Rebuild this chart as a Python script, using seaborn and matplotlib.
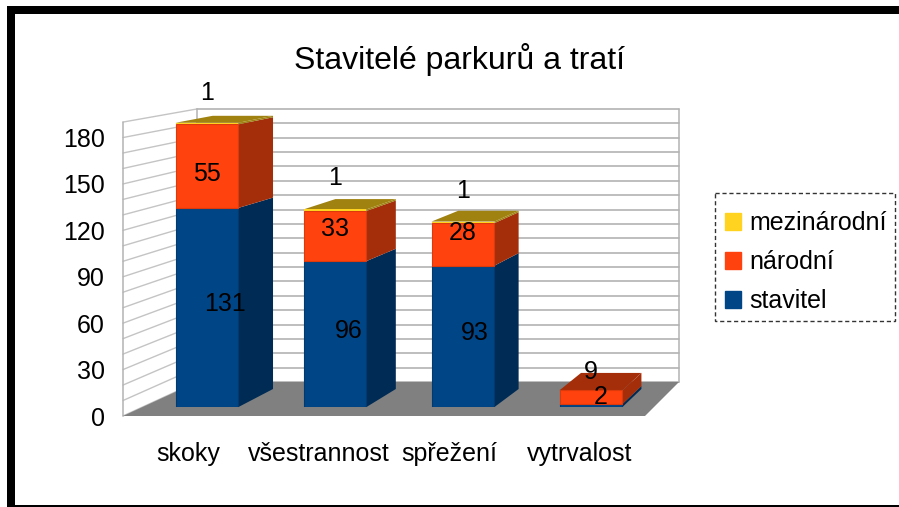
"""Stavitele parkuru a trati - fake 3D stacked bars."""
import pandas as pd
import matplotlib
matplotlib.use("Agg")
import matplotlib.pyplot as plt
from matplotlib.patches import Patch, Polygon, Rectangle
import seaborn as sns

W, H = 899, 507

categories = ["skoky", "všestrannost", "spřežení", "vytrvalost"]
stavitel = [131, 96, 93, 2]
narodni = [55, 33, 28, 9]
mezinarodni = [1, 1, 1, 0]
y_ticks = [0, 30, 60, 90, 120, 150, 180]
grid_values = list(range(0, 200, 10))

BLUE, BLUE_D = "#004586", "#002b55"
ORANGE, ORANGE_D = "#ff420e", "#a32e09"
YELLOW, YELLOW_D = "#ffd320", "#a08210"
GRID = "#b3b3b3"

# label offsets from the segment centre, in pixels
off_stavitel = [(18, 3), (14, 3), (12, 3), (10, 8)]
off_narodni = [(0, -8), (0, 7), (0, 11), (0, 25)]
off_mezi = [(0, 30), (0, 31), (0, 31), None]

sns.set_style("white")
plt.rcParams["font.family"] = ["Liberation Sans", "DejaVu Sans"]
plt.rcParams["font.size"] = 18
plt.rcParams["text.color"] = "black"
plt.rcParams["xtick.color"] = "black"
plt.rcParams["ytick.color"] = "black"


def add_axes(fig, left, top, right, bottom, **kw):
    return fig.add_axes([left / W, 1 - bottom / H, (right - left) / W, (bottom - top) / H], **kw)


def depth_x(x):
    return (74 - 40 * (x - 123) / 522) * 0.53


def back_y(y):
    return y - 18 + 11 * (407 - y) / 283


df = pd.DataFrame({"cat": categories, "stavitel": stavitel, "narodni": narodni, "mezi": mezinarodni})
df["b1"] = df["stavitel"]
df["b2"] = df["stavitel"] + df["narodni"]

fig = plt.figure(figsize=(W / 100, H / 100), dpi=100)
fig.patch.set_facecolor("white")

# scene in pixel coordinates: frame, walls, floor
bg = add_axes(fig, 0, 0, W, H, zorder=0)
bg.set_xlim(0, W); bg.set_ylim(H, 0); bg.axis("off")
for rect in [(7, 6, 8, 501), (7, 6, W, 8), (7, 505, W, 2)]:
    bg.add_patch(Rectangle(rect[:2], rect[2], rect[3], color="black", lw=0))
for v in grid_values:
    fy = 416 - v * 1.547
    by = 382 - v * 1.437
    bg.plot([123, 197], [fy, by], color="#c4c4c4", lw=1, zorder=1)
    bg.plot([197, 679], [by, by], color=GRID, lw=1.2, zorder=1)
bg.plot([123, 123], [416, 122], color=GRID, lw=1.1, zorder=1)
bg.plot([197, 197], [382, 109], color=GRID, lw=1.1, zorder=1)
bg.plot([679, 679], [382, 109], color=GRID, lw=1.1, zorder=1)
bg.add_patch(Polygon([(123, 416), (645, 416), (679, 382), (197, 382)], color="#808080", lw=0, zorder=2))
bg.add_patch(Rectangle((715, 193), 180, 128, fill=False, ec="#333333", lw=1, ls=(0, (3, 2)), zorder=2))

# axis labels sit on the front edge of the floor
wall = add_axes(fig, 123, 122, 645, 416, zorder=1)
wall.patch.set_alpha(0)
wall.set_xlim(-0.5, 3.5); wall.set_ylim(0, 190)
wall.set_xticks(range(len(categories)), categories)
wall.set_yticks(y_ticks, [str(t) for t in y_ticks])
wall.tick_params(axis="x", length=0, pad=19, labelsize=18)
wall.tick_params(axis="y", length=0, pad=13, labelsize=18)
sns.despine(ax=wall, left=True, bottom=True)

ax = add_axes(fig, 143, 407 - 190 * 1.52, 655, 407, zorder=2)
ax.patch.set_alpha(0)
sns.barplot(data=df, x="cat", y="stavitel", color=BLUE, saturation=1, width=0.492, ax=ax,
            edgecolor="#003a70", linewidth=0.8)
n1 = len(ax.patches)
sns.barplot(data=df, x="cat", y="narodni", bottom=df["b1"], color=ORANGE, saturation=1, width=0.492, ax=ax,
            edgecolor="#dc3a0d", linewidth=0.8)
n2 = len(ax.patches)
sns.barplot(data=df, x="cat", y="mezi", bottom=df["b2"], color=YELLOW, saturation=1, width=0.492, ax=ax,
            linewidth=0)
ax.set_xlim(-0.5, 3.5); ax.set_ylim(0, 190)
ax.set_xlabel(""); ax.set_ylabel(""); ax.set_xticks([]); ax.set_yticks([])
sns.despine(ax=ax, left=True, bottom=True)


def to_px(x, y):
    px, py = ax.transData.transform((x, y))
    return px, H - py


# side and top faces follow the front rectangles seaborn drew
bars = ax.patches
for i in range(len(categories)):
    group = [(bars[i], BLUE_D), (bars[n1 + i], ORANGE_D), (bars[n2 + i], YELLOW_D)]
    for b, shade in group:
        if b.get_height() == 0:
            continue
        x0, x1 = b.get_x(), b.get_x() + b.get_width()
        y0, y1 = b.get_y(), b.get_y() + b.get_height()
        lx, ty = to_px(x0, y1)
        rx, by = to_px(x1, y0)
        side = [(rx, by), (rx, ty), (rx + depth_x(rx), back_y(ty)), (rx + depth_x(rx), back_y(by))]
        bg.add_patch(Polygon(side, color=shade, lw=0, zorder=3))
    top = group[2] if group[2][0].get_height() > 0 else group[1]
    b, shade = top
    lx, ty = to_px(b.get_x(), b.get_y() + b.get_height())
    rx, _ = to_px(b.get_x() + b.get_width(), 0)
    face = [(lx, ty), (rx, ty), (rx + depth_x(rx), back_y(ty)), (lx + depth_x(lx), back_y(ty))]
    bg.add_patch(Polygon(face, color=shade, lw=0, zorder=4))

for i in range(len(categories)):
    ax.annotate(str(stavitel[i]), (i, stavitel[i] / 2), xytext=off_stavitel[i], textcoords="offset pixels",
                ha="center", va="center", fontsize=18, color="black")
    ax.annotate(str(narodni[i]), (i, stavitel[i] + narodni[i] / 2), xytext=off_narodni[i], textcoords="offset pixels",
                ha="center", va="center", fontsize=18, color="black")
    if off_mezi[i] is not None:
        ax.annotate(str(mezinarodni[i]), (i, stavitel[i] + narodni[i] + mezinarodni[i]), xytext=off_mezi[i],
                    textcoords="offset pixels", ha="center", va="center", fontsize=18, color="black")

fig.text(460 / W, 1 - 60 / H, "Stavitelé parkurů a tratí", fontsize=23, ha="center", va="center")

handles = [Patch(color=YELLOW, label="mezinárodní"), Patch(color=ORANGE, label="národní"), Patch(color=BLUE, label="stavitel")]
fig.legend(handles=handles, loc="upper left", bbox_to_anchor=(714 / W, 1 - 200 / H), borderaxespad=0,
           frameon=False, fontsize=18, handlelength=0.64, handleheight=0.64,
           handletextpad=0.32, labelspacing=0.6, borderpad=0.45)

fig.savefig("out.png", dpi=100)
